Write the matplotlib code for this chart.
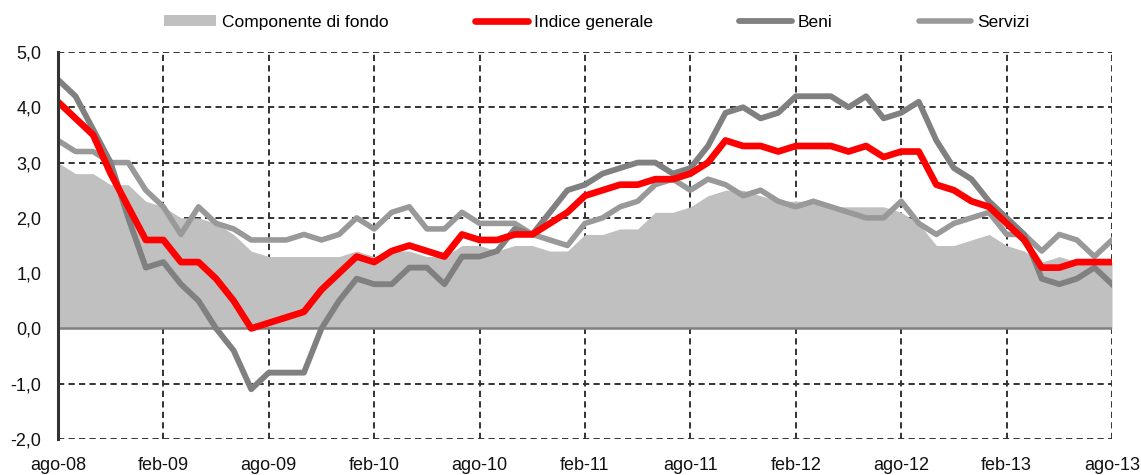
import numpy as np
import matplotlib
matplotlib.use("Agg")
import matplotlib.pyplot as plt
from matplotlib.lines import Line2D
from matplotlib.patches import Patch

plt.rcParams['font.family'] = ['Liberation Sans', 'DejaVu Sans']

# monthly data, ago-08 ... ago-13
mesi = ["ago-08", "feb-09", "ago-09", "feb-10", "ago-10", "feb-11",
        "ago-11", "feb-12", "ago-12", "feb-13", "ago-13"]

indice_generale = [4.1, 3.8, 3.5, 2.8, 2.2, 1.6, 1.6, 1.2, 1.2, 0.9,
                   0.5, 0.0, 0.1, 0.2, 0.3, 0.7, 1.0, 1.3, 1.2, 1.4,
                   1.5, 1.4, 1.3, 1.7, 1.6, 1.6, 1.7, 1.7, 1.9, 2.1,
                   2.4, 2.5, 2.6, 2.6, 2.7, 2.7, 2.8, 3.0, 3.4, 3.3,
                   3.3, 3.2, 3.3, 3.3, 3.3, 3.2, 3.3, 3.1, 3.2, 3.2,
                   2.6, 2.5, 2.3, 2.2, 1.9, 1.6, 1.1, 1.1, 1.2, 1.2,
                   1.2]

beni = [4.5, 4.2, 3.6, 3.0, 2.0, 1.1, 1.2, 0.8, 0.5, 0.0,
        -0.4, -1.1, -0.8, -0.8, -0.8, 0.0, 0.5, 0.9, 0.8, 0.8,
        1.1, 1.1, 0.8, 1.3, 1.3, 1.4, 1.8, 1.7, 2.1, 2.5,
        2.6, 2.8, 2.9, 3.0, 3.0, 2.8, 2.9, 3.3, 3.9, 4.0,
        3.8, 3.9, 4.2, 4.2, 4.2, 4.0, 4.2, 3.8, 3.9, 4.1,
        3.4, 2.9, 2.7, 2.3, 2.0, 1.7, 0.9, 0.8, 0.9, 1.1,
        0.8]

servizi = [3.4, 3.2, 3.2, 3.0, 3.0, 2.5, 2.2, 1.7, 2.2, 1.9,
           1.8, 1.6, 1.6, 1.6, 1.7, 1.6, 1.7, 2.0, 1.8, 2.1,
           2.2, 1.8, 1.8, 2.1, 1.9, 1.9, 1.9, 1.7, 1.6, 1.5,
           1.9, 2.0, 2.2, 2.3, 2.6, 2.7, 2.5, 2.7, 2.6, 2.4,
           2.5, 2.3, 2.2, 2.3, 2.2, 2.1, 2.0, 2.0, 2.3, 1.9,
           1.7, 1.9, 2.0, 2.1, 1.7, 1.7, 1.4, 1.7, 1.6, 1.3,
           1.6]

componente_fondo = [3.0, 2.8, 2.8, 2.6, 2.6, 2.3, 2.2, 2.0, 2.0, 1.9,
                    1.7, 1.4, 1.3, 1.3, 1.3, 1.3, 1.3, 1.4, 1.3, 1.4,
                    1.4, 1.3, 1.3, 1.5, 1.5, 1.4, 1.5, 1.5, 1.4, 1.4,
                    1.7, 1.7, 1.8, 1.8, 2.1, 2.1, 2.2, 2.4, 2.5, 2.5,
                    2.4, 2.3, 2.3, 2.3, 2.2, 2.2, 2.2, 2.2, 2.1, 1.9,
                    1.5, 1.5, 1.6, 1.7, 1.5, 1.4, 1.2, 1.3, 1.2, 1.2,
                    1.2]

x = np.arange(len(indice_generale))

fig = plt.figure(figsize=(11.41, 4.75), dpi=100)
ax = fig.add_axes([0.0508, 0.0758, 0.9238, 0.8147])

ax.fill_between(x, 0, componente_fondo, color="#c0c0c0", linewidth=0, zorder=2)
ax.axhline(0, color="#808080", linewidth=1.8, zorder=3)
ax.plot(x, servizi, color="#999999", linewidth=4.0, zorder=4)
ax.plot(x, beni, color="#808080", linewidth=4.2, zorder=5)
ax.plot(x, indice_generale, color="#ff0000", linewidth=4.8, zorder=6)

ax.set_xlim(0, 60)
ax.set_ylim(-2, 5)
ax.set_yticks(np.arange(-2, 6, 1))
ax.set_yticklabels([f"{v:.1f}".replace(".", ",") for v in np.arange(-2, 6, 1)])
ax.set_xticks(np.arange(0, 61, 6))
ax.set_xticklabels(mesi)

# dashed grid, below the area
dash = (0, (3.2, 2.2))
for v in [-2, -1, 1, 2, 3, 4, 5]:
    ax.axhline(v, color="#333333", linewidth=1.4, linestyle=dash, zorder=1)
for t in np.arange(6, 61, 6):
    ax.axvline(t, color="#333333", linewidth=1.4, linestyle=dash, zorder=1)

for s in ["top", "right", "bottom"]:
    ax.spines[s].set_visible(False)
ax.spines["left"].set_color("#333333")
ax.spines["left"].set_linewidth(2.2)
ax.spines["left"].set_zorder(7)

ax.tick_params(axis="y", length=0, pad=12, labelsize=13, colors="#111111")
ax.tick_params(axis="x", length=0, pad=13, labelsize=13, colors="#111111")

handles = [
    Patch(facecolor="#c0c0c0", edgecolor="none"),
    Line2D([], [], color="#ff0000", linewidth=4.8, solid_capstyle="round"),
    Line2D([], [], color="#808080", linewidth=4.2, solid_capstyle="round"),
    Line2D([], [], color="#999999", linewidth=4.0, solid_capstyle="round"),
]
labels = ["Componente di fondo", "Indice generale", "Beni", "Servizi"]
fig.legend(handles, labels, loc="center", bbox_to_anchor=(0.523, 0.953),
           ncol=4, frameon=False, fontsize=12.5, handlelength=3.0,
           handleheight=0.55, handletextpad=0.35, columnspacing=5.0)

fig.savefig("out.png", dpi=100)
